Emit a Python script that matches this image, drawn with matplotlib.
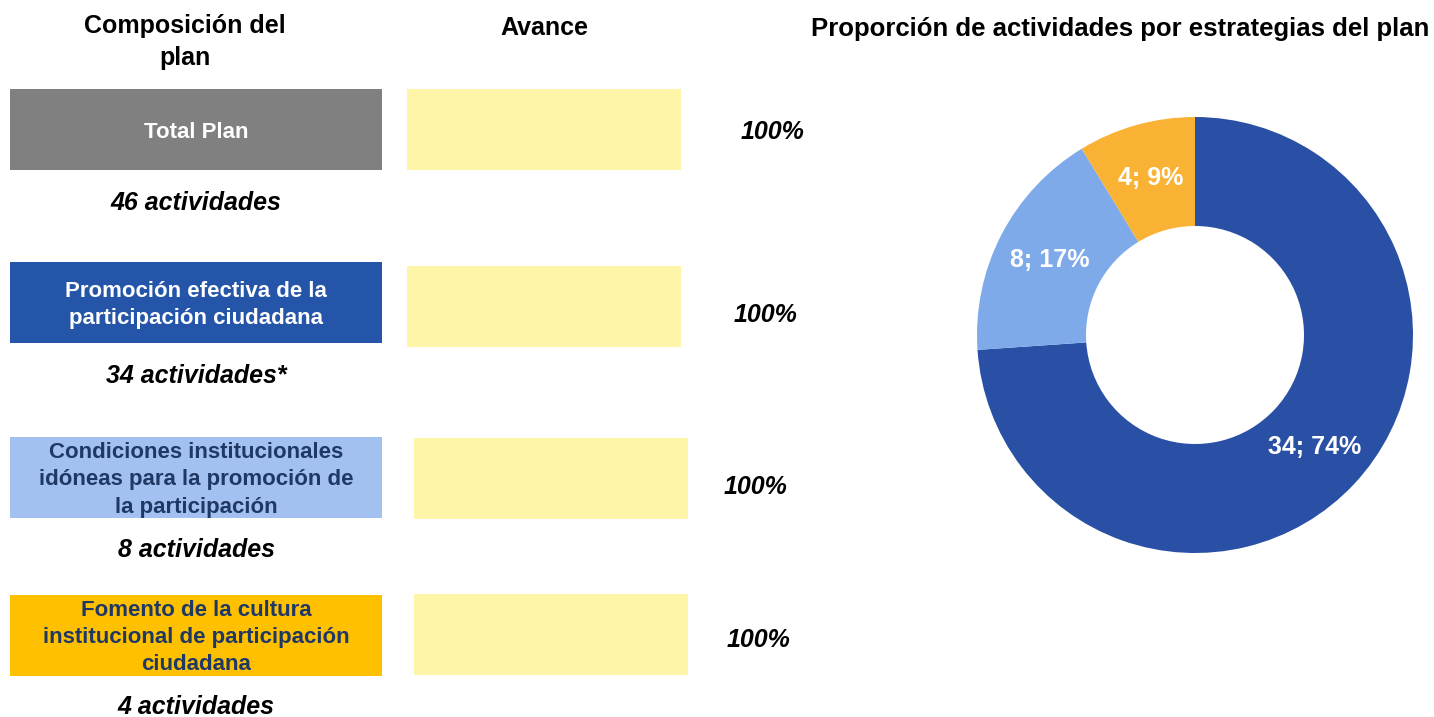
import numpy as np
import matplotlib.pyplot as plt

plt.rcParams['font.family'] = ['Liberation Sans', 'DejaVu Sans']

# datos del plan
estrategias = ['Total Plan',
               'Promoción efectiva de la\nparticipación ciudadana',
               'Condiciones institucionales\nidóneas para la promoción de\nla participación',
               'Fomento de la cultura\ninstitucional de participación\nciudadana']
actividades = [46, 34, 8, 4]
nota = ['', '*', '', '']
avance = [100, 100, 100, 100]
donut_valores = [34, 8, 4]

# estilos
box_colors = ['#808080', '#2555A9', '#A3C1F0', '#FFC000']
box_text_colors = ['white', 'white', '#1F3864', '#1F3864']
yellow = '#FFF5A8'
donut_colors = ['#2A50A5', '#7FAAEA', '#F9B233']

W, H = 1434, 717
fig = plt.figure(figsize=(W / 100, H / 100), dpi=100)
ax = fig.add_axes([0, 0, 1, 1])
ax.set_xlim(0, W)
ax.set_ylim(H, 0)
ax.axis('off')

# posiciones (pixeles)
box_y = [129.5, 302.5, 477.5, 635]
av_y = [129.5, 306, 478.5, 634.5]
av_left = [407, 407, 414, 414]
av_full = 274
pct_x = [773, 766, 756, 759]
pct_y = [132, 315, 487, 640]
sub_y = [203, 376, 550, 707]

ax.barh(box_y, 372, left=10, height=81, color=box_colors)
ax.barh(av_y, np.array(avance) / 100 * av_full, left=av_left, height=81, color=yellow)

for i in range(4):
    ax.text(196, box_y[i] + 2.5, estrategias[i], ha='center', va='center', fontsize=16,
            fontweight='bold', color=box_text_colors[i], linespacing=1.38)
    ax.text(196, sub_y[i], '{} actividades{}'.format(actividades[i], nota[i]),
            ha='center', va='center', fontsize=18, fontweight='bold', style='italic')
    ax.text(pct_x[i], pct_y[i], '{}%'.format(avance[i]), ha='center', va='center',
            fontsize=18, fontweight='bold', style='italic')

ax.text(185, 42, 'Composición del\nplan', ha='center', va='center', fontsize=18,
        fontweight='bold', linespacing=1.38)
ax.text(544, 28, 'Avance', ha='center', va='center', fontsize=18, fontweight='bold')
ax.text(1120, 29, 'Proporción de actividades por estrategias del plan', ha='center',
        va='center', fontsize=18.5, fontweight='bold')

# dona
cx, cy, r = 1195, 335, 218
ax2 = fig.add_axes([(cx - r) / W, 1 - (cy + r) / H, 2 * r / W, 2 * r / H])
total = sum(donut_valores)


def fmt(p):
    v = int(round(p * total / 100))
    return '{}; {:.0f}%'.format(v, p)


ax2.pie(donut_valores, colors=donut_colors, startangle=90, counterclock=False,
        wedgeprops=dict(width=0.5, edgecolor='none'), autopct=fmt, pctdistance=0.75,
        textprops=dict(color='white', fontsize=18, fontweight='bold'))
ax2.set_xlim(-1, 1)
ax2.set_ylim(-1, 1)

fig.savefig('out.png', dpi=100)
